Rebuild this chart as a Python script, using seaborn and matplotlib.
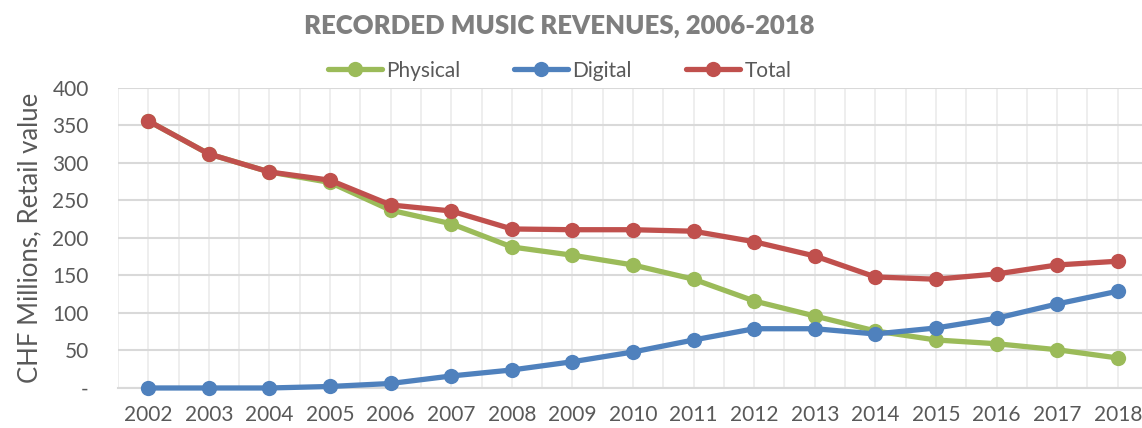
import matplotlib
matplotlib.use("Agg")
import matplotlib.pyplot as plt
import seaborn as sns
import pandas as pd
import numpy as np
from matplotlib.ticker import MultipleLocator, FuncFormatter

years = list(range(2002, 2019))
physical = [356, 312, 288, 274, 237, 219, 188, 177, 164, 145, 116, 96, 76, 64, 59, 51, 40]
digital = [0, 0, 0, 2, 6, 16, 24, 35, 48, 64, 79, 79, 72, 80, 93, 112, 129]
total = [356, 312, 288, 277, 244, 236, 212, 211, 211, 209, 195, 176, 148, 145, 152, 164, 169]

series_names = ["Physical", "Digital", "Total"]
colors = ["#9BBB59", "#4F81BD", "#C0504D"]

df = pd.concat([
    pd.DataFrame({"Year": years, "Value": physical, "Series": "Physical"}),
    pd.DataFrame({"Year": years, "Value": digital, "Series": "Digital"}),
    pd.DataFrame({"Year": years, "Value": total, "Series": "Total"}),
])

sns.set_theme(style="white")
plt.rcParams["font.family"] = ["Lato", "DejaVu Sans"]

fig = plt.figure(figsize=(11.42, 4.28), dpi=100)
ax = fig.add_axes([0.1033, 0.0935, 0.8967, 0.701])

sns.lineplot(data=df, x="Year", y="Value", hue="Series", hue_order=series_names,
             palette=colors, marker="o", markersize=11, linewidth=3.8,
             markeredgewidth=0, ax=ax, legend=False, zorder=3)
for ln in ax.lines:
    ln.set_clip_on(False)

ax.set_xlim(2001.5, 2018.4)
ax.set_ylim(0, 400)
ax.xaxis.set_major_locator(MultipleLocator(1))
ax.xaxis.set_minor_locator(MultipleLocator(0.5))
ax.yaxis.set_major_locator(MultipleLocator(50))
ax.yaxis.set_major_formatter(FuncFormatter(lambda v, p: "-" if v == 0 else f"{int(v)}"))

ax.grid(which="major", axis="y", color="#D9D9D9", linewidth=1.5, zorder=0)
ax.grid(which="minor", axis="x", color="#EDEDED", linewidth=1.3, zorder=0)
ax.grid(which="major", axis="x", color="#EDEDED", linewidth=1.3, zorder=0)
ax.set_axisbelow(True)
for s in ["top", "right", "left"]:
    ax.spines[s].set_visible(False)
ax.spines["bottom"].set_color("#D9D9D9")
ax.spines["bottom"].set_linewidth(1.5)

ax.tick_params(axis="both", which="both", length=0, labelsize=15, labelcolor="#595959")
ax.tick_params(axis="x", pad=12)
ax.tick_params(axis="y", pad=21)
ax.set_xlabel("")
ax.set_ylabel("CHF Millions, Retail value", fontsize=18.5, color="#595959", labelpad=7)

fig.text(0.49, 0.94, "RECORDED MUSIC REVENUES, 2006-2018", ha="center", va="center",
         fontsize=18.5, fontweight="heavy", color="#7F7F7F")

handles = [plt.Line2D([], [], color=c, marker="o", markersize=11, linewidth=3.8,
                      markeredgewidth=0) for c in colors]
fig.legend(handles, series_names, loc="center", bbox_to_anchor=(0.49, 0.835), ncol=3,
           frameon=False, fontsize=15, handlelength=2.6, columnspacing=2.6,
           handletextpad=0.2, labelcolor="#595959")

fig.savefig("out.png", dpi=100)
